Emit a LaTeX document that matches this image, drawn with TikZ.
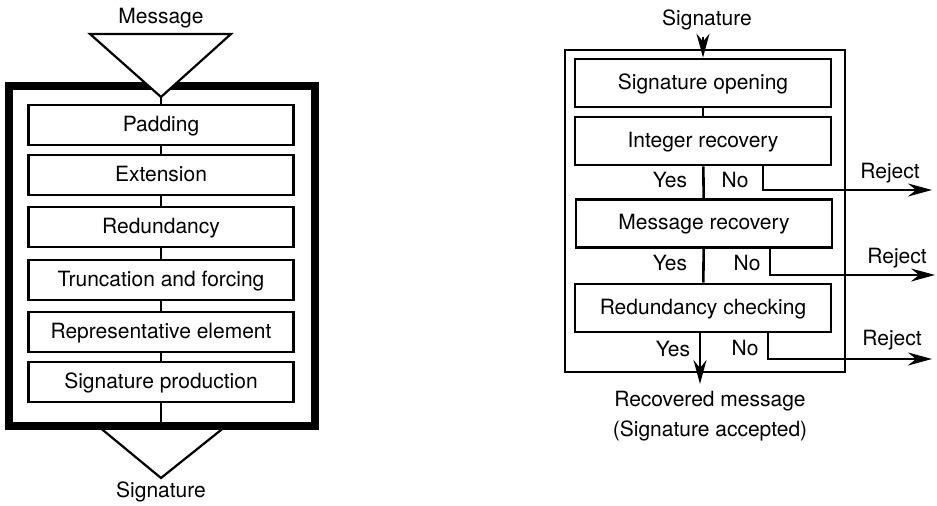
\documentclass[tikz,border=0pt]{standalone}
\usepackage{fontspec}
\setmainfont{TeX Gyre Heros}
\usetikzlibrary{arrows.meta}

\newcommand*{\lboxw}{132.5pt}
\newcommand*{\lboxh}{20pt}
\newcommand*{\rboxw}{128pt}
\newcommand*{\rboxh}{24pt}

\begin{document}
\begin{tikzpicture}
[
	x=0.5pt,
	y=-0.5pt,
	font=\fontsize{10.5pt}{15pt}\selectfont,
	procbox/.style={draw,line width=1.4pt,inner sep=0pt,text height=1.6ex,text depth=0.45ex},
	lbox/.style={procbox,minimum width=\lboxw,minimum height=\lboxh},
	rbox/.style={procbox,minimum width=\rboxw,minimum height=\rboxh},
	spine/.style={line width=1.3pt},
	tri/.style={draw,fill=white,line width=1.1pt,line join=miter},
	arr/.style={line width=1.1pt,-{Stealth[length=12pt,width=6.5pt,inset=4pt]}}
]

	\useasboundingbox (0,0) rectangle (937,506);

	% left: signature production
	\draw[tri] (98,426) -- (226,426) -- (161,478) -- cycle;
	\draw[line width=4pt] (9,86) rectangle (315,426);
	\draw[tri] (90,34) -- (231,34) -- (161,97) -- cycle;
	\coordinate (msgtip) at (161,97);
	\coordinate (sigout) at (161,426);

	\node (msg) at (161,18) {Message};
	\node (sigl) at (161,492) {Signature};

	\node[lbox] (pad) at (161,125) {Padding};
	\node[lbox] (ext) at (161,175) {Extension};
	\node[lbox] (red) at (161,227) {Redundancy};
	\node[lbox] (trc) at (161,280) {Truncation and forcing};
	\node[lbox] (rep) at (161,332) {Representative element};
	\node[lbox] (spr) at (161,382) {Signature production};

	\draw[spine] (msgtip) -- (pad);
	\draw[spine] (pad) -- (ext);
	\draw[spine] (ext) -- (red);
	\draw[spine] (red) -- (trc);
	\draw[spine] (trc) -- (rep);
	\draw[spine] (rep) -- (spr);
	\draw[spine] (spr) -- (sigout);

	% right: signature verification
	\draw[line width=1pt] (565,50) rectangle (845,372);

	\node (sigr) at (707,20) {Signature};
	\node[rbox] (so) at (703,83) {Signature opening};
	\node[rbox] (ir) at (703,141) {Integer recovery};
	\node[rbox] (mr) at (704,223.5) {Message recovery};
	\node[rbox] (rc) at (703,308) {Redundancy checking};

	\draw[arr] (sigr.south -| so.north) -- (so.north);
	\draw[spine] (so) -- (ir);
	\draw[spine] (ir) -- (mr);
	\draw[spine] (mr) -- (rc);

	% yes / no
	\node (yes1) at (670,180) {Yes};
	\node (no1) at (735,180) {No};
	\node (yes2) at (670,263) {Yes};
	\node (no2) at (747,263) {No};
	\node (yes3) at (673,349) {Yes};
	\node (no3) at (745,348) {No};

	% reject
	\coordinate (rj1) at (932,190);
	\coordinate (rj2) at (935,275);
	\coordinate (rj3) at (932,359);
	\draw[arr] ([xshift=30pt]ir.south) |- (rj1);
	\draw[arr] ([xshift=33pt]mr.south) |- (rj2);
	\draw[arr] ([xshift=32.5pt]rc.south) |- (rj3);
	\node (rej1) at (890,173) {Reject};
	\node (rej2) at (897,258) {Reject};
	\node (rej3) at (892,340) {Reject};

	% accepted
	\coordinate (acc) at (700,384);
	\draw[arr] (rc.south -| acc) -- (acc);
	\node[align=center] (rec) at (710,416) {Recovered message\\(Signature accepted)};

\end{tikzpicture}
\end{document}
